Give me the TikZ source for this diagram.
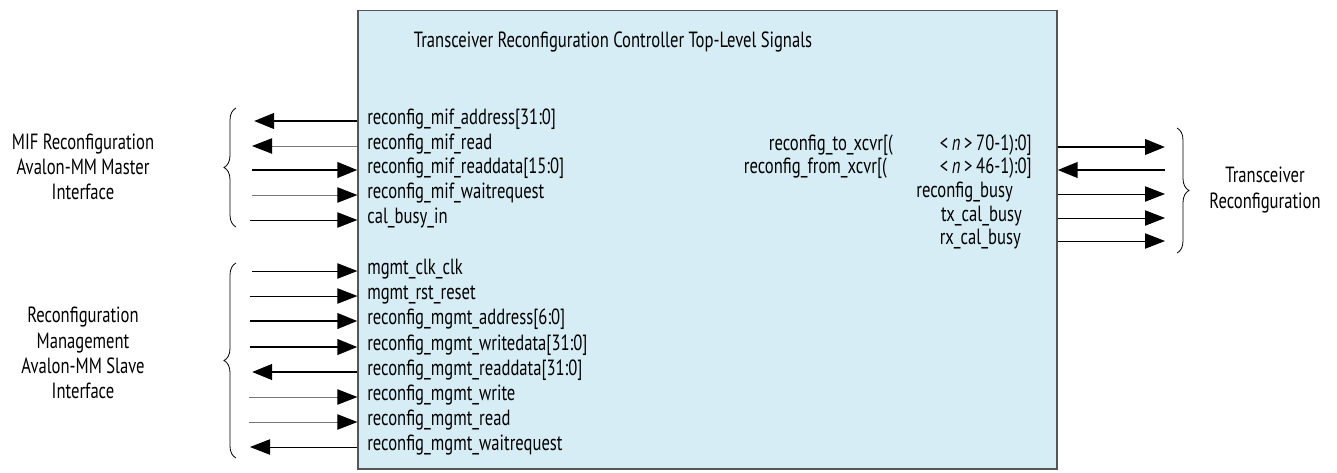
\documentclass[tikz,border=0pt]{standalone}
\usepackage{fontspec}
\setmainfont[FakeStretch=0.755]{PT Sans}
\usetikzlibrary{positioning, arrows.meta, fit, decorations.pathreplacing}
\definecolor{boxfill}{RGB}{214,237,245}
\definecolor{boxedge}{RGB}{85,85,85}
\definecolor{wiregray}{RGB}{120,120,120}
\newcommand{\sigfont}{\fontsize{16.5}{19}\selectfont}
\tikzset{
    ctrlbox/.style={rectangle, draw=boxedge, fill=boxfill, line width=0.9pt, inner sep=0pt},
    sigl/.style={font=\sigfont, inner sep=0pt, anchor=mid west},
    sigr/.style={font=\sigfont, inner sep=0pt, anchor=mid east},
    grplab/.style={font=\sigfont, align=center, inner sep=0pt},
    titlestyle/.style={font=\sigfont, inner sep=0pt},
    busarr/.style={-{Triangle[length=15pt, width=11.5pt, color=black]}, line width=2.2pt, black},
    wirearr/.style={-{Triangle[length=15pt, width=11.5pt, color=black]}, line width=0.7pt, black},
    greyarr/.style={-{Triangle[length=15pt, width=11.5pt, color=black]}, line width=0.7pt, wiregray},
    grpbrace/.style={decorate, decoration={brace, amplitude=9pt}, line width=0.6pt}
}
\begin{document}
\begin{tikzpicture}[x=0.75pt, y=-0.75pt]
    \useasboundingbox (0,0) rectangle (1337,472);

    % Controller box
    \node[ctrlbox, fit={(358,10.5) (1057,469)}] (box) {};
    \node[titlestyle] (title) at (613,42) {Transceiver Reconfiguration Controller Top-Level Signals};

    % MIF signals
    \node[sigl] (mifaddr) at (367,121) {reconfig\_mif\_address[31:0]};
    \node[sigl] (mifrd) at (367,146) {reconfig\_mif\_read};
    \node[sigl] (mifrdata) at (367,170) {reconfig\_mif\_readdata[15:0]};
    \node[sigl] (mifwait) at (367,195) {reconfig\_mif\_waitrequest};
    \node[sigl] (calin) at (367,220) {cal\_busy\_in};
    \coordinate (mifaddr-x) at (254,121);
    \coordinate (mifrd-x) at (252,146);
    \coordinate (mifrdata-x) at (252,170);
    \coordinate (mifwait-x) at (252,195);
    \coordinate (calin-x) at (250,220);
    \draw[busarr] (box.west |- mifaddr.mid west) -- (mifaddr-x);
    \draw[greyarr] (box.west |- mifrd.mid west) -- (mifrd-x);
    \draw[busarr] (mifrdata-x) -- (box.west |- mifrdata.mid west);
    \draw[greyarr] (mifwait-x) -- (box.west |- mifwait.mid west);
    \draw[wirearr] (calin-x) -- (box.west |- calin.mid west);

    % Management signals
    \node[sigl] (clk) at (367,271) {mgmt\_clk\_clk};
    \node[sigl] (rst) at (367,296) {mgmt\_rst\_reset};
    \node[sigl] (maddr) at (367,321) {reconfig\_mgmt\_address[6:0]};
    \node[sigl] (mwdata) at (367,347) {reconfig\_mgmt\_writedata[31:0]};
    \node[sigl] (mrdata) at (367,372) {reconfig\_mgmt\_readdata[31:0]};
    \node[sigl] (mwr) at (367,397) {reconfig\_mgmt\_write};
    \node[sigl] (mrd) at (367,422) {reconfig\_mgmt\_read};
    \node[sigl] (mwait) at (367,447) {reconfig\_mgmt\_waitrequest};
    \coordinate (clk-x) at (252,271);
    \coordinate (rst-x) at (250,296);
    \coordinate (maddr-x) at (250,321);
    \coordinate (mwdata-x) at (250,347);
    \coordinate (mrdata-x) at (252,372);
    \coordinate (mwr-x) at (249,397);
    \coordinate (mrd-x) at (249,422);
    \coordinate (mwait-x) at (250,447);
    \draw[wirearr] (clk-x) -- (box.west |- clk.mid west);
    \draw[wirearr] (rst-x) -- (box.west |- rst.mid west);
    \draw[busarr] (maddr-x) -- (box.west |- maddr.mid west);
    \draw[busarr] (mwdata-x) -- (box.west |- mwdata.mid west);
    \draw[busarr] (box.west |- mrdata.mid west) -- (mrdata-x);
    \draw[greyarr] (mwr-x) -- (box.west |- mwr.mid west);
    \draw[greyarr] (mrd-x) -- (box.west |- mrd.mid west);
    \draw[wirearr] (box.west |- mwait.mid west) -- (mwait-x);

    % Transceiver signals
    \node[sigr] (toxa) at (893,147) {reconfig\_to\_xcvr[(};
    \node[sigr] (tox) at (1032,147) {<\,\textit{n}\,>\,70-1):0]};
    \node[sigr] (fromxa) at (887,170) {reconfig\_from\_xcvr[(};
    \node[sigr] (fromx) at (1032,170) {<\,\textit{n}\,>\,46-1):0]};
    \node[sigr] (busy) at (1013,194) {reconfig\_busy};
    \node[sigr] (txbusy) at (1022,218) {tx\_cal\_busy};
    \node[sigr] (rxbusy) at (1021,241) {rx\_cal\_busy};
    \coordinate (tox-x) at (1165,147);
    \coordinate (fromx-x) at (1165,170);
    \coordinate (busy-x) at (1165,194);
    \coordinate (txbusy-x) at (1165,218);
    \coordinate (rxbusy-x) at (1165,241);
    \draw[busarr] (box.east |- tox.mid east) -- (tox-x);
    \draw[busarr] (fromx-x) -- (box.east |- fromx.mid east);
    \draw[wirearr] (box.east |- busy.mid east) -- (busy-x);
    \draw[wirearr] (box.east |- txbusy.mid east) -- (txbusy-x);
    \draw[wirearr] (box.east |- rxbusy.mid east) -- (rxbusy-x);

    % Braces and group labels
    \coordinate (mifb-lo) at (236,227);
    \coordinate (mifb-hi) at (236,108);
    \coordinate (mgmtb-lo) at (236,458);
    \coordinate (mgmtb-hi) at (236,263);
    \coordinate (xcvrb-hi) at (1177,128);
    \coordinate (xcvrb-lo) at (1177,253);
    \draw[grpbrace] (mifb-lo) -- (mifb-hi);
    \draw[grpbrace] (mgmtb-lo) -- (mgmtb-hi);
    \draw[grpbrace] (xcvrb-hi) -- (xcvrb-lo);
    \node[grplab] (miflab) at (83,167) {MIF Reconfiguration\\Avalon-MM Master\\Interface};
    \node[grplab] (mgmtlab) at (83,353) {Reconfiguration\\Management\\Avalon-MM Slave\\Interface};
    \node[grplab] (xcvrlab) at (1265,190) {Transceiver\\Reconfiguration};
\end{tikzpicture}
\end{document}
